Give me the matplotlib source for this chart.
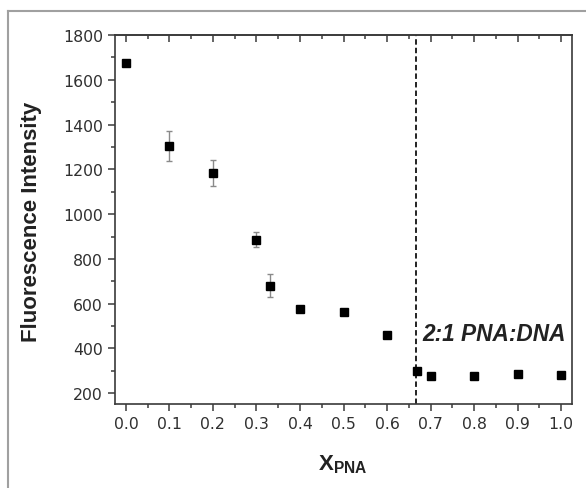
import matplotlib
matplotlib.use("Agg")
import matplotlib.pyplot as plt
from matplotlib.lines import Line2D
from matplotlib.ticker import MultipleLocator

plt.rcParams['font.family'] = ['DejaVu Sans']
plt.rcParams['mathtext.fontset'] = 'custom'
plt.rcParams['mathtext.rm'] = 'Liberation Sans'
plt.rcParams['mathtext.bf'] = 'Liberation Sans:bold'

x_pna = [0.0, 0.1, 0.2, 0.3, 0.33, 0.4, 0.5, 0.6, 0.67, 0.7, 0.8, 0.9, 1.0]
intensity = [1675, 1306, 1183, 886, 681, 577, 565, 462, 299, 276, 279, 287, 281]
errors = [8, 67, 57, 33, 50, 12, 12, 6, 8, 12, 6, 6, 6]
stoich_x = 2 / 3
annot_text = "2:1 PNA:DNA"
xticks = [0.0, 0.1, 0.2, 0.3, 0.4, 0.5, 0.6, 0.7, 0.8, 0.9, 1.0]
yticks = [200, 400, 600, 800, 1000, 1200, 1400, 1600, 1800]

W, H = 586, 489
fig = plt.figure(figsize=(W / 100, H / 100), dpi=100)
ax = fig.add_axes([115 / W, 1 - 405 / H, (572 - 115) / W, (405 - 36) / H])

spine_c = '#3a3a3a'
ax.errorbar(x_pna, intensity, yerr=errors, fmt='s', color='black', ms=6,
            ecolor='#8a8a8a', elinewidth=1.0, capsize=2.4, capthick=1.0, zorder=3)
ax.axvline(stoich_x, color='#222222', lw=1.4, dashes=(2.8, 1.6), zorder=2)
ax.text(0.682, 465, annot_text, fontsize=16.3, fontweight='bold', fontstyle='italic',
        family='Liberation Sans', color='#222222', ha='left', va='center')

ax.set_xlim(-0.025, 1.025)
ax.set_ylim(152, 1800)
ax.set_xticks(xticks)
ax.set_xticklabels([f"{v:.1f}" for v in xticks])
ax.set_yticks(yticks)
ax.xaxis.set_minor_locator(MultipleLocator(0.05))
ax.yaxis.set_minor_locator(MultipleLocator(100))

for s in ax.spines.values():
    s.set_color(spine_c)
    s.set_linewidth(1.2)

ax.tick_params(which='major', direction='out', length=5.2, width=1.1, color=spine_c,
               labelsize=11.3, labelcolor='#303030', pad=3.5)
ax.tick_params(which='minor', direction='out', length=3, width=1.1, color=spine_c)
ax.tick_params(right=False, top=False, which='both')
for lab in ax.get_xticklabels() + ax.get_yticklabels():
    lab.set_family('DejaVu Sans')

sec = ax.secondary_xaxis('top')
sec.set_xticks(xticks)
sec.xaxis.set_minor_locator(MultipleLocator(0.05))
sec.tick_params(which='major', direction='in', length=5.2, width=1.1, color=spine_c, labeltop=False)
sec.tick_params(which='minor', direction='in', length=3.2, width=1.1, color=spine_c)
sec.spines['top'].set_color(spine_c)
sec.spines['top'].set_linewidth(1.2)

fig.text(32 / W, 1 - 221.5 / H, "Fluorescence Intensity", rotation=90, ha='center', va='center',
         fontsize=16, fontweight='bold', family='Liberation Sans', color='#222222')
fig.text(342.5 / W, 1 - 470 / H, r"$\mathbf{X}_{\mathbf{PNA}}$", ha='center', va='baseline',
         fontsize=16, color='#222222')

fig.add_artist(Line2D([7.5 / W, 7.5 / W], [0, 1 - 11.5 / H], transform=fig.transFigure,
                      color='#a0a0a0', lw=1.5))
fig.add_artist(Line2D([7.5 / W, 1], [1 - 11.5 / H, 1 - 11.5 / H], transform=fig.transFigure,
                      color='#a0a0a0', lw=1.5))

fig.savefig("out.png", dpi=100)
